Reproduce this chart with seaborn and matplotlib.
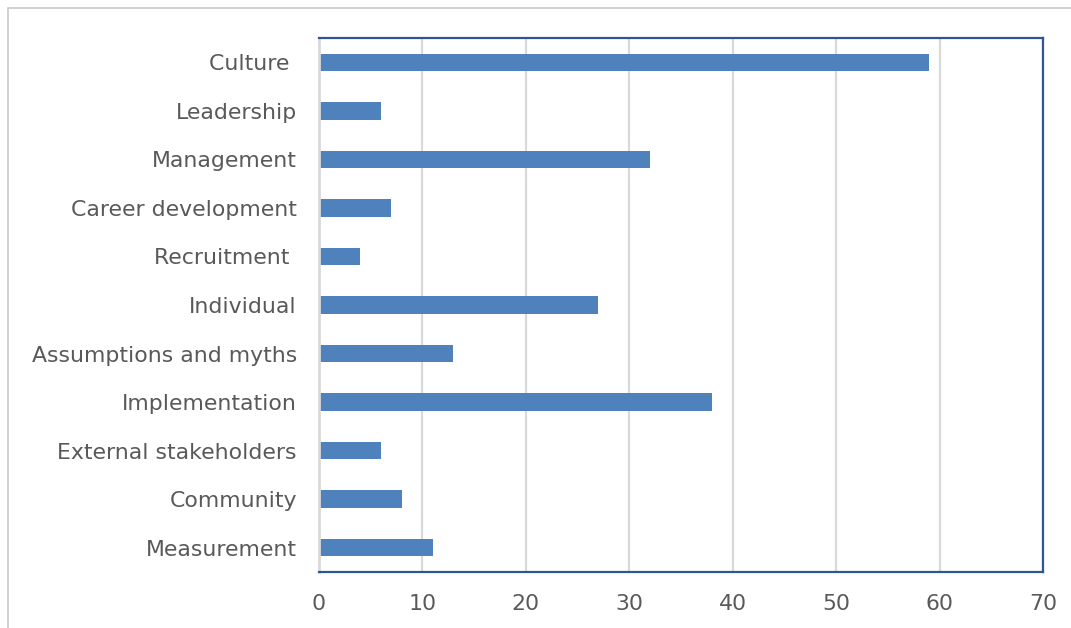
import matplotlib
matplotlib.use("Agg")
import matplotlib.pyplot as plt
import seaborn as sns
import pandas as pd
from matplotlib.patches import Rectangle

categories = ["Culture ", "Leadership", "Management", "Career development", "Recruitment ",
              "Individual", "Assumptions and myths", "Implementation", "External stakeholders",
              "Community", "Measurement"]
values = [59, 6, 32, 7, 4, 27, 13, 38, 6, 8, 11]
x_ticks = [0, 10, 20, 30, 40, 50, 60, 70]

df = pd.DataFrame({"category": categories, "value": values})

sns.set_theme(style="white")
plt.rcParams['font.family'] = ['DejaVu Sans']

fig = plt.figure(figsize=(10.71, 6.28), dpi=100)
ax = fig.add_axes([319/1071, 1-572/628, (1043-319)/1071, (572-38)/628])

for t in x_ticks[1:]:
    ax.axvline(t, color="#D9D9D9", lw=1.6, zorder=0)

sns.barplot(data=df, x="value", y="category", order=categories, color="#4F81BD",
            width=0.36, saturation=1, ax=ax, zorder=2, linewidth=0)

ax.set_xlim(0, 70)
ax.set_xticks(x_ticks)
ax.set_xticklabels([str(t) for t in x_ticks])
ax.set_xlabel("")
ax.set_ylabel("")
ax.tick_params(axis="both", length=0, labelsize=15.8, labelcolor="#595959")
ax.tick_params(axis="x", pad=16)
ax.tick_params(axis="y", pad=16)

for s in ["top", "right", "bottom"]:
    ax.spines[s].set_color("#2F5597")
    ax.spines[s].set_linewidth(1.6)
ax.spines["left"].set_color("#D9D9D9")
ax.spines["left"].set_linewidth(2)

fig.patches.append(Rectangle((8/1071, -0.1), 1.2, 1 - 8/628 + 0.1, transform=fig.transFigure,
                             fill=False, edgecolor="#C8C8C8", lw=1.2))

fig.savefig("out.png", dpi=100)
